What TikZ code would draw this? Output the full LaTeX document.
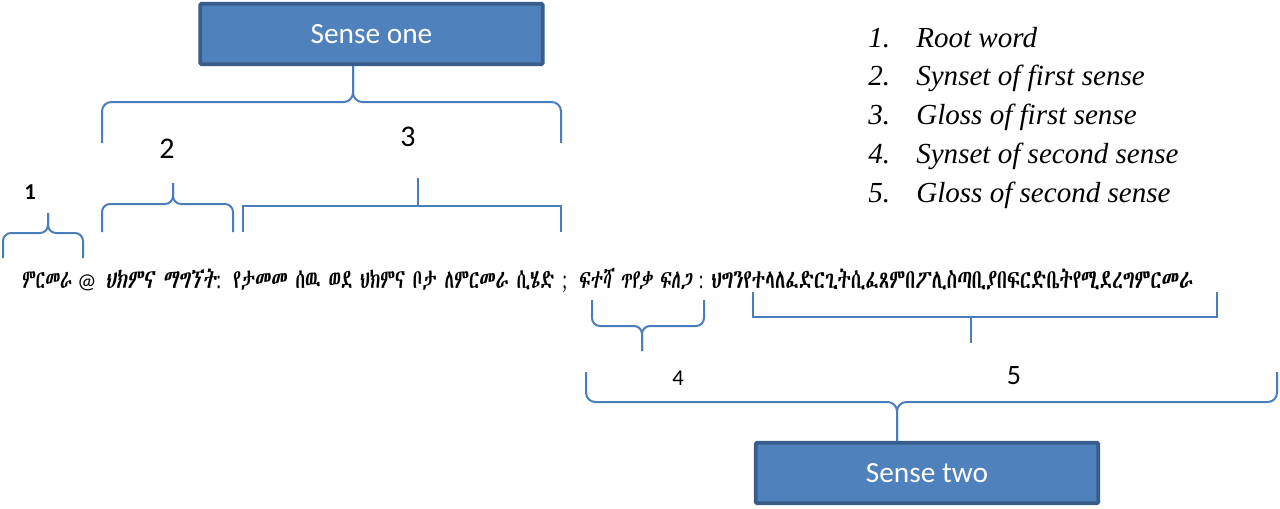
\documentclass[tikz,border=0pt]{standalone}
\usepackage{fontspec}
\usepackage{graphicx}
\setmainfont{Liberation Serif}
% Ethiopic face: GNU FreeSerif when it can be found, otherwise Abyssinica SIL
\IfFontExistsTF{FreeSerif.otf}{%
  \newfontfamily\ethfont{FreeSerif.otf}%
  \newfontfamily\ethslant[FakeSlant=0.2]{FreeSerif.otf}%
}{\IfFontExistsTF{Abyssinica SIL}{%
  \newfontfamily\ethfont{Abyssinica SIL}%
  \newfontfamily\ethslant[FakeSlant=0.2]{Abyssinica SIL}%
}{%
  \newfontfamily\ethfont{DejaVu Sans}%
  \newfontfamily\ethslant[FakeSlant=0.2]{DejaVu Sans}%
}}
\newfontfamily\calib{Carlito}
\newfontfamily\lat{Liberation Serif}
\definecolor{boxfill}{HTML}{4F81BD}
\definecolor{boxedge}{HTML}{385D8A}
\definecolor{braceblue}{HTML}{4A7EBB}
% set a run of text to a given width, keeping its height
\newcommand{\fitwidth}[2]{\resizebox{#1}{\height}{#2}}
\tikzset{
  sensebox/.style={draw=boxedge, fill=boxfill, line width=2.8pt,
    minimum width=257pt, minimum height=45.3pt, inner sep=0pt,
    rounded corners=1pt, text=white, font=\calib\fontsize{22}{26}\selectfont},
  curlybrace/.style={draw=braceblue, line width=1.5pt, rounded corners=6pt},
  sqbracket/.style={draw=braceblue, line width=1.5pt},
  sqstem/.style={draw=braceblue, line width=2.2pt},
  digit/.style={font=\calib\fontsize{22.5}{26}\selectfont, inner sep=0pt},
  smalldigit/.style={font=\calib\fontsize{17}{20}\selectfont, inner sep=0pt},
  legend/.style={font=\lat\itshape\fontsize{21.8}{24}\selectfont, anchor=base west, inner sep=0pt},
  gloss/.style={font=\ethfont\fontsize{20}{22}\selectfont, anchor=base west, inner sep=0pt},
  synset/.style={font=\ethslant\fontsize{20}{22}\selectfont, anchor=base west, inner sep=0pt}
}
\begin{document}
\begin{tikzpicture}[x=0.75pt,y=-0.75pt]
\useasboundingbox (0,0) rectangle (1280,508);

% sense boxes
\node[sensebox] (s1) at (371.5,34) {Sense one};
\node[sensebox] (s2) at (927,473) {Sense two};

% dictionary entry
\node[gloss] (root) at (22,288) {\fitwidth{37.5pt}{ምርመራ}};
\node[gloss, font=\calib\fontsize{16}{18}\selectfont] (at) at (77,288) {@};
\node[synset] (syn1) at (105,288) {\fitwidth{87pt}{ህክምና ማግኘት{\lat:}}};
\node[gloss] (gl1) at (233,288) {\fitwidth{250.5pt}{የታመመ ሰዉ ወደ ህክምና ቦታ ለምርመራ ሲሄድ {\lat;}}};
\node[synset] (syn2) at (578,288) {\fitwidth{94pt}{ፍተሻ ጥየቃ ፍለጋ {\lat:}}};
\node[gloss] (gl2) at (711,288) {\fitwidth{361.5pt}{ህግንየተላለፈድርጊትሲፈጸምበፖሊስጣቢያበፍርድቤትየሚደረግምርመራ}};

% brace over the first sense
\draw[curlybrace, rounded corners=7pt] (102,143) -- (102,102) -- (353,102) -- (353,0 |- s1.south);
\draw[curlybrace, rounded corners=7pt] (561,143) -- (561,102) -- (353,102) -- (353,0 |- s1.south);

% brace 1: root word
\draw[curlybrace] (3,258) -- (3,233) -- (48,233) -- (48,213);
\draw[curlybrace] (83,258) -- (83,233) -- (48,233) -- (48,213);
% brace 2: synset of first sense
\draw[curlybrace] (102,232) -- (102,204) -- (173,204) -- (173,183);
\draw[curlybrace] (233,232) -- (233,204) -- (173,204) -- (173,183);
% bracket 3: gloss of first sense
\draw[sqbracket] (243,232) -- (243,206) -- (561,206) -- (561,232);
\draw[sqstem] (418,206) -- (418,178);

% brace 4: synset of second sense
\draw[curlybrace] (592,300) -- (592,326) -- (642,326) -- (642,351);
\draw[curlybrace] (704,300) -- (704,326) -- (642,326) -- (642,351);
% bracket 5: gloss of second sense
\draw[sqbracket] (753,292) -- (753,317) -- (1217,317) -- (1217,292);
\draw[sqstem] (971,317) -- (971,343);

% brace under the second sense
\draw[curlybrace, rounded corners=7pt] (586,372) -- (586,402) -- (897,402) -- (897,0 |- s2.north);
\draw[curlybrace, rounded corners=7pt] (1277,372) -- (1277,402) -- (897,402) -- (897,0 |- s2.north);

% part numbers
\node[smalldigit, font=\calib\bfseries\fontsize{17}{20}\selectfont] (n1) at (30,192) {1};
\node[digit] (n2) at (167,149) {2};
\node[digit] (n3) at (408,137) {3};
\node[smalldigit] (n4) at (678,378) {4};
\node[digit, font=\calib\fontsize{21}{24}\selectfont] (n5) at (1014,376) {5};

% key
\node[legend] (k1n) at (868,47) {1.};
\node[legend] (k1) at (916,47) {Root word};
\node[legend] (k2n) at (868,85) {2.};
\node[legend] (k2) at (916,85) {Synset of first sense};
\node[legend] (k3n) at (868,124) {3.};
\node[legend] (k3) at (916,124) {Gloss of first sense};
\node[legend] (k4n) at (868,163) {4.};
\node[legend] (k4) at (916,163) {Synset of second sense};
\node[legend] (k5n) at (868,202) {5.};
\node[legend] (k5) at (916,202) {Gloss of second sense};
\end{tikzpicture}
\end{document}
